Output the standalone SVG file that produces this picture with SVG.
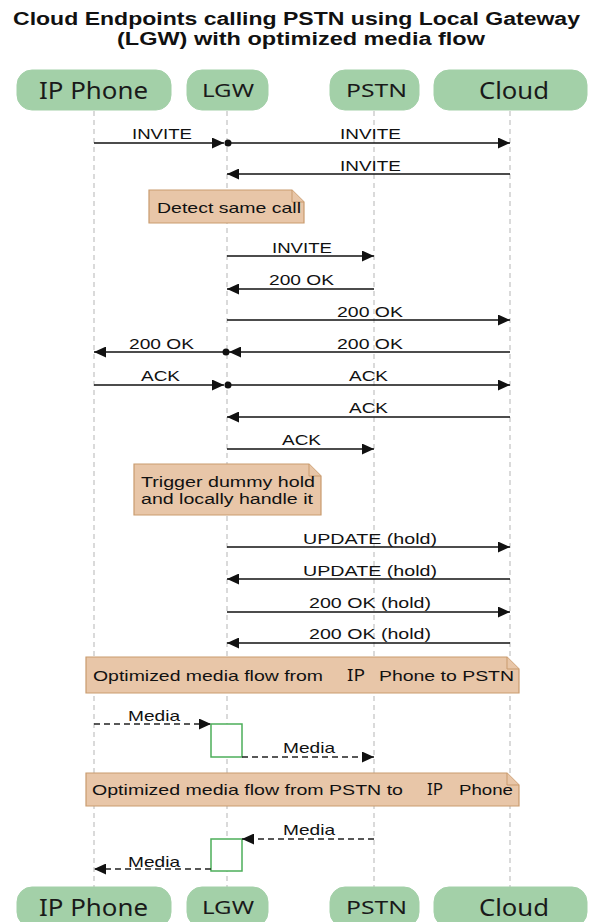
<svg xmlns="http://www.w3.org/2000/svg" width="603" height="922" viewBox="0 0 603 922">
<style>
.bg{fill:#ffffff}
.title{font-family:"Liberation Sans",Arial,sans-serif;font-weight:bold;font-size:18px;fill:#111}
.head rect{fill:#a3d0a8;stroke:#a3d0a8;stroke-width:1}
.big{font-family:"Noto Sans","Open Sans",sans-serif;font-size:23px;fill:#1a1a1a}
.small{font-family:"Noto Sans","Open Sans",sans-serif;font-size:18px;fill:#1a1a1a}
.life{stroke:#b5b5b5;stroke-width:1;stroke-dasharray:5,4;fill:none}
.msg{stroke:#111;stroke-width:1.5;fill:none}
.dash{stroke:#222;stroke-width:1.5;fill:none;stroke-dasharray:6,4}
.lbl{font-family:"Liberation Sans",Arial,sans-serif;font-size:15px;fill:#111}
.note path.body{fill:#e8c6a8;stroke:#c99b6e;stroke-width:1.2}
.note path.fold{fill:#e8c6a8;stroke:#c99b6e;stroke-width:1}
.ntxt{font-family:"Liberation Sans",Arial,sans-serif;font-size:15px;fill:#111}
.ntxt2{font-family:"Liberation Sans",Arial,sans-serif;font-size:14px;fill:#111}
.nip{font-family:"Noto Sans","Open Sans",sans-serif;font-size:17px;fill:#111}
.act{fill:#ffffff;stroke:#4cae5a;stroke-width:1.5}
.dot{fill:#111}
</style>
<defs>
<marker id="ah" markerUnits="userSpaceOnUse" markerWidth="12" markerHeight="11" refX="12" refY="5.5" orient="auto">
<path d="M0,0 L12,5.5 L0,11 Z" fill="#111"/>
</marker>
</defs>
<rect class="bg" x="0" y="0" width="603" height="922"/>
<g id="title">
<text class="title" x="13" y="25" textLength="567" lengthAdjust="spacingAndGlyphs">Cloud Endpoints calling PSTN using Local Gateway</text>
<text class="title" x="117" y="45" textLength="368" lengthAdjust="spacingAndGlyphs">(LGW) with optimized media flow</text>
</g>
<g id="lifelines">
<line class="life" x1="94" y1="111" x2="94" y2="887"/>
<line class="life" x1="227" y1="111" x2="227" y2="887"/>
<line class="life" x1="374" y1="111" x2="374" y2="887"/>
<line class="life" x1="510" y1="111" x2="510" y2="887"/>
</g>
<g id="ipphone" class="head">
<rect x="17" y="70" width="154" height="40" rx="15"/>
<text class="big" x="39" y="99" textLength="109" lengthAdjust="spacingAndGlyphs">IP Phone</text>
<rect x="17" y="887" width="154" height="40" rx="15"/>
<text class="big" x="39" y="916" textLength="109" lengthAdjust="spacingAndGlyphs">IP Phone</text>
</g>
<g id="lgw" class="head">
<rect x="187" y="70" width="81" height="40" rx="15"/>
<text class="small" x="202" y="97" textLength="52" lengthAdjust="spacingAndGlyphs">LGW</text>
<rect x="187" y="887" width="81" height="40" rx="15"/>
<text class="small" x="202" y="914" textLength="52" lengthAdjust="spacingAndGlyphs">LGW</text>
</g>
<g id="pstn" class="head">
<rect x="330" y="70" width="89" height="40" rx="15"/>
<text class="small" x="346" y="97" textLength="61" lengthAdjust="spacingAndGlyphs">PSTN</text>
<rect x="330" y="887" width="89" height="40" rx="15"/>
<text class="small" x="346" y="914" textLength="61" lengthAdjust="spacingAndGlyphs">PSTN</text>
</g>
<g id="cloud" class="head">
<rect x="434" y="70" width="153" height="40" rx="15"/>
<text class="big" x="479" y="99" textLength="70" lengthAdjust="spacingAndGlyphs">Cloud</text>
<rect x="434" y="887" width="153" height="40" rx="15"/>
<text class="big" x="479" y="916" textLength="70" lengthAdjust="spacingAndGlyphs">Cloud</text>
</g>
<g id="note-detect" class="note">
<path class="body" d="M149,190 H292 L304,202 V223 H149 Z"/>
<path class="fold" d="M292,190 V202 H304"/>
<text class="ntxt" x="157" y="213" textLength="144" lengthAdjust="spacingAndGlyphs">Detect same call</text>
</g>
<g id="note-hold" class="note">
<path class="body" d="M134,464 H309 L321,476 V515 H134 Z"/>
<path class="fold" d="M309,464 V476 H321"/>
<text class="ntxt2" x="141" y="487" textLength="174" lengthAdjust="spacingAndGlyphs">Trigger dummy hold</text>
<text class="ntxt2" x="141" y="504" textLength="172" lengthAdjust="spacingAndGlyphs">and locally handle it</text>
</g>
<g id="note-media1" class="note">
<path class="body" d="M86,657 H507 L519,669 V693 H86 Z"/>
<path class="fold" d="M507,657 V669 H519"/>
<text class="ntxt" x="93" y="681" textLength="230" lengthAdjust="spacingAndGlyphs">Optimized media flow from</text>
<text class="nip" x="347" y="681" textLength="18" lengthAdjust="spacingAndGlyphs">IP</text>
<text class="ntxt" x="379" y="681" textLength="135" lengthAdjust="spacingAndGlyphs">Phone to PSTN</text>
</g>
<g id="note-media2" class="note">
<path class="body" d="M86,773 H507 L519,785 V806 H86 Z"/>
<path class="fold" d="M507,773 V785 H519"/>
<text class="ntxt" x="92" y="795" textLength="311" lengthAdjust="spacingAndGlyphs">Optimized media flow from PSTN to</text>
<text class="nip" x="427" y="795" textLength="16" lengthAdjust="spacingAndGlyphs">IP</text>
<text class="ntxt" x="459" y="795" textLength="54" lengthAdjust="spacingAndGlyphs">Phone</text>
</g>
<g id="activations">
<rect class="act" x="211" y="724" width="31" height="33"/>
<rect class="act" x="211" y="839" width="31" height="32"/>
</g>
<g id="connectors">
<line class="msg" x1="94" y1="143" x2="224" y2="143" marker-end="url(#ah)"/>
<circle class="dot" cx="228" cy="143" r="3.5"/>
<text class="lbl" x="132" y="139" textLength="60" lengthAdjust="spacingAndGlyphs">INVITE</text>
<line class="msg" x1="228" y1="143" x2="510" y2="143" marker-end="url(#ah)"/>
<text class="lbl" x="340" y="139" textLength="61" lengthAdjust="spacingAndGlyphs">INVITE</text>
<line class="msg" x1="510" y1="174" x2="227" y2="174" marker-end="url(#ah)"/>
<text class="lbl" x="340" y="171" textLength="61" lengthAdjust="spacingAndGlyphs">INVITE</text>
<line class="msg" x1="227" y1="256" x2="374" y2="256" marker-end="url(#ah)"/>
<text class="lbl" x="272" y="253" textLength="60" lengthAdjust="spacingAndGlyphs">INVITE</text>
<line class="msg" x1="374" y1="289" x2="227" y2="289" marker-end="url(#ah)"/>
<text class="lbl" x="269" y="285" textLength="65" lengthAdjust="spacingAndGlyphs">200 OK</text>
<line class="msg" x1="227" y1="320" x2="510" y2="320" marker-end="url(#ah)"/>
<text class="lbl" x="337" y="317" textLength="66" lengthAdjust="spacingAndGlyphs">200 OK</text>
<line class="msg" x1="510" y1="352" x2="229" y2="352" marker-end="url(#ah)"/>
<circle class="dot" cx="226" cy="352" r="3.5"/>
<text class="lbl" x="337" y="349" textLength="66" lengthAdjust="spacingAndGlyphs">200 OK</text>
<line class="msg" x1="226" y1="352" x2="94" y2="352" marker-end="url(#ah)"/>
<text class="lbl" x="129" y="349" textLength="65" lengthAdjust="spacingAndGlyphs">200 OK</text>
<line class="msg" x1="94" y1="385" x2="224" y2="385" marker-end="url(#ah)"/>
<circle class="dot" cx="228" cy="385" r="3.5"/>
<text class="lbl" x="141" y="381" textLength="39" lengthAdjust="spacingAndGlyphs">ACK</text>
<line class="msg" x1="228" y1="385" x2="510" y2="385" marker-end="url(#ah)"/>
<text class="lbl" x="349" y="381" textLength="39" lengthAdjust="spacingAndGlyphs">ACK</text>
<line class="msg" x1="510" y1="417" x2="227" y2="417" marker-end="url(#ah)"/>
<text class="lbl" x="349" y="413" textLength="39" lengthAdjust="spacingAndGlyphs">ACK</text>
<line class="msg" x1="227" y1="449" x2="374" y2="449" marker-end="url(#ah)"/>
<text class="lbl" x="282" y="445" textLength="39" lengthAdjust="spacingAndGlyphs">ACK</text>
<line class="msg" x1="227" y1="547" x2="510" y2="547" marker-end="url(#ah)"/>
<text class="lbl" x="303" y="544" textLength="134" lengthAdjust="spacingAndGlyphs">UPDATE (hold)</text>
<line class="msg" x1="510" y1="579" x2="227" y2="579" marker-end="url(#ah)"/>
<text class="lbl" x="303" y="576" textLength="134" lengthAdjust="spacingAndGlyphs">UPDATE (hold)</text>
<line class="msg" x1="227" y1="612" x2="510" y2="612" marker-end="url(#ah)"/>
<text class="lbl" x="309" y="608" textLength="122" lengthAdjust="spacingAndGlyphs">200 OK (hold)</text>
<line class="msg" x1="510" y1="643" x2="227" y2="643" marker-end="url(#ah)"/>
<text class="lbl" x="309" y="639" textLength="122" lengthAdjust="spacingAndGlyphs">200 OK (hold)</text>
<line class="dash" x1="94" y1="724" x2="211" y2="724" marker-end="url(#ah)"/>
<text class="lbl" x="128" y="721" textLength="52" lengthAdjust="spacingAndGlyphs">Media</text>
<line class="dash" x1="242" y1="757" x2="374" y2="757" marker-end="url(#ah)"/>
<text class="lbl" x="283" y="753" textLength="52" lengthAdjust="spacingAndGlyphs">Media</text>
<line class="dash" x1="374" y1="839" x2="242" y2="839" marker-end="url(#ah)"/>
<text class="lbl" x="283" y="835" textLength="52" lengthAdjust="spacingAndGlyphs">Media</text>
<line class="dash" x1="211" y1="869" x2="94" y2="869" marker-end="url(#ah)"/>
<text class="lbl" x="128" y="867" textLength="52" lengthAdjust="spacingAndGlyphs">Media</text>
</g>
</svg>
